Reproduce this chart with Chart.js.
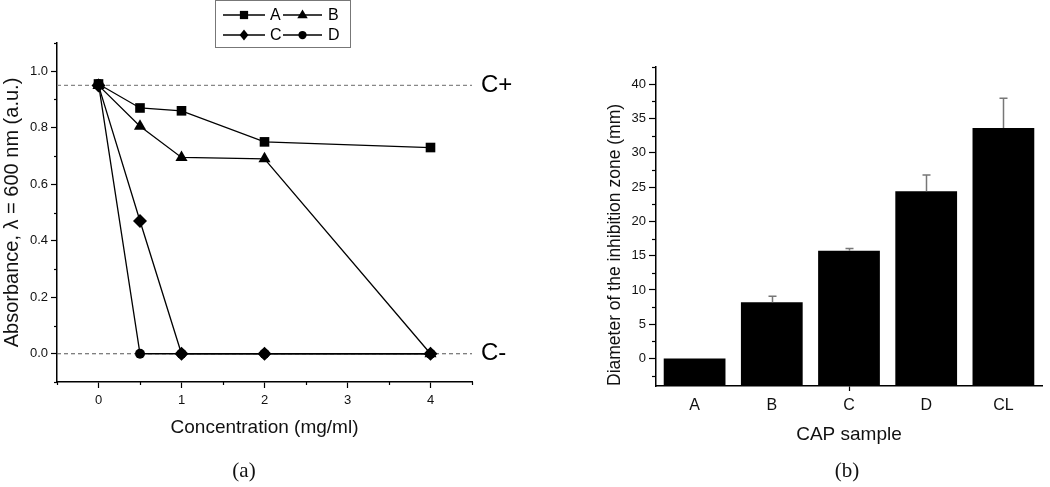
<!DOCTYPE html>
<html>
<head>
<meta charset="utf-8">
<script src="https://cdn.jsdelivr.net/npm/chart.js"></script>
<style>
  body { margin: 0; background: #fff; }
  #wrap { position: relative; width: 1050px; height: 487px; overflow: hidden; }
  canvas { position: absolute; top: 0; }
  .panel { position: absolute; top: 457px; width: 80px; text-align: center;
           font: 21px/26px "Liberation Serif", serif; color: #111; }
</style>
</head>
<body>
<div id="wrap">
  <canvas id="chartA" width="520" height="487" style="left:0"></canvas>
  <canvas id="chartB" width="530" height="487" style="left:520px"></canvas>
  <div class="panel" style="left:204px">(a)</div>
  <div class="panel" style="left:807px">(b)</div>
</div>
<script>
// panel (a): absorbance vs concentration
const concentration = [0, 0.5, 1, 2, 4];
const absA = [0.955, 0.87, 0.86, 0.75, 0.73];
const absB = [0.95, 0.805, 0.695, 0.69, 0.0];
const absC = [0.95, 0.47, 0.0, 0.0, 0.0];
const absD = [0.955, 0.0, 0.0, 0.0, 0.0];
const controlPos = 0.95;
const controlNeg = 0.0;

// panel (b): inhibition zone
const samples = ['A', 'B', 'C', 'D', 'CL'];
const zoneDiameter = [0, 8.2, 15.7, 24.4, 33.6];
const zoneError = [0, 0.9, 0.35, 2.35, 4.35];

const SANS = '"Liberation Sans", Arial, sans-serif';
const CLEAR = 'rgba(0,0,0,0)';

function pts(ys) { return concentration.map((x, i) => ({x: x, y: ys[i]})); }

function marker(ctx, style, x, y, r) {
  ctx.beginPath();
  if (style === 'rect') {
    const s = r * 0.75;
    ctx.rect(x - s, y - s, 2 * s, 2 * s);
  } else if (style === 'triangle') {
    ctx.moveTo(x, y - r);
    ctx.lineTo(x + r * 0.95, y + r * 0.6);
    ctx.lineTo(x - r * 0.95, y + r * 0.6);
    ctx.closePath();
  } else if (style === 'rectRot') {
    ctx.moveTo(x, y - r);
    ctx.lineTo(x + r * 0.8, y);
    ctx.lineTo(x, y + r);
    ctx.lineTo(x - r * 0.8, y);
    ctx.closePath();
  } else {
    ctx.arc(x, y, r * 0.75, 0, Math.PI * 2);
  }
  ctx.fill();
}

// short minor ticks, drawn next to the axis line
function minorTicks(scaleId, isMinor, len) {
  return {
    id: 'minor_' + scaleId,
    afterDraw(chart) {
      const s = chart.scales[scaleId], ctx = chart.ctx;
      ctx.save();
      ctx.strokeStyle = '#000';
      ctx.lineWidth = 1.2;
      s.ticks.forEach(t => {
        if (!isMinor(t.value)) return;
        const p = Math.round(s.getPixelForValue(t.value)) + 0.5;
        ctx.beginPath();
        if (s.isHorizontal()) { ctx.moveTo(p, s.top); ctx.lineTo(p, s.top + len); }
        else { ctx.moveTo(s.right - len, p); ctx.lineTo(s.right, p); }
        ctx.stroke();
      });
      ctx.restore();
    }
  };
}

const yMinorA = v => Math.round(v * 10) % 2 !== 0;
const xMinorA = v => Math.round(v * 2) % 2 !== 0;
const yMinorB = v => Math.round(v / 2.5) % 2 !== 0;

const legendBox = {
  id: 'legendBox',
  afterDraw(chart) {
    const ctx = chart.ctx;
    const ds = chart.data.datasets.filter(d => d.label);
    ctx.save();
    ctx.strokeStyle = '#777';
    ctx.lineWidth = 1;
    ctx.strokeRect(215.5, 0.5, 135, 47);
    ctx.font = '16px ' + SANS;
    ctx.textBaseline = 'middle';
    ctx.fillStyle = '#000';
    ctx.strokeStyle = '#000';
    ds.forEach((d, i) => {
      const col = i % 2, row = Math.floor(i / 2);
      const y = 15 + row * 20;
      const x0 = col ? 283 : 223, x1 = col ? 322 : 265;
      ctx.lineWidth = 1.3;
      ctx.beginPath(); ctx.moveTo(x0, y); ctx.lineTo(x1, y); ctx.stroke();
      marker(ctx, d.pointStyle, (x0 + x1) / 2, y, 5.5);
      ctx.fillText(d.label, col ? 328 : 270, y + 1);
    });
    ctx.restore();
  }
};

const controlLabels = {
  id: 'controlLabels',
  afterDraw(chart) {
    const ctx = chart.ctx, y = chart.scales.y, x = chart.chartArea.right + 9;
    ctx.save();
    ctx.font = '24px ' + SANS;
    ctx.fillStyle = '#000';
    ctx.textBaseline = 'middle';
    ctx.fillText('C+', x, y.getPixelForValue(controlPos));
    ctx.fillText('C-', x, y.getPixelForValue(controlNeg));
    ctx.restore();
  }
};

const errorBars = {
  id: 'errorBars',
  afterDatasetsDraw(chart) {
    const ctx = chart.ctx, y = chart.scales.y;
    const meta = chart.getDatasetMeta(0);
    ctx.save();
    ctx.strokeStyle = '#777';
    ctx.lineWidth = 1.5;
    meta.data.forEach((bar, i) => {
      if (!zoneError[i]) return;
      const x = Math.round(bar.x) + 0.5;
      const top = y.getPixelForValue(zoneDiameter[i] + zoneError[i]);
      const base = y.getPixelForValue(zoneDiameter[i]);
      ctx.beginPath();
      ctx.moveTo(x, base); ctx.lineTo(x, top);
      ctx.moveTo(x - 4, top); ctx.lineTo(x + 4, top);
      ctx.stroke();
    });
    ctx.restore();
  }
};

function series(label, ys, style, radius, order) {
  return {
    label: label, data: pts(ys), order: order,
    borderColor: '#000', backgroundColor: '#000', borderWidth: 1.3,
    pointStyle: style, pointRadius: radius, pointBorderWidth: 0,
    pointBackgroundColor: '#000', showLine: true, tension: 0
  };
}

function refLine(value, color) {
  return {
    data: [{x: -0.5, y: value}, {x: 4.5, y: value}], order: 10,
    borderColor: color, borderWidth: 1.2, borderDash: [4, 3],
    pointRadius: 0, showLine: true
  };
}

new Chart(document.getElementById('chartA'), {
  type: 'scatter',
  data: {
    datasets: [
      series('A', absA, 'rect', 6.8, 1),
      series('B', absB, 'triangle', 7, 2),
      series('C', absC, 'rectRot', 7, 0),
      series('D', absD, 'circle', 5, 3),
      refLine(controlPos, '#888'),
      refLine(controlNeg, '#555')
    ]
  },
  options: {
    responsive: false, animation: false, devicePixelRatio: 1, events: [],
    layout: { padding: { left: 0, right: 48, top: 43, bottom: 40 } },
    plugins: { legend: { display: false }, tooltip: { enabled: false } },
    scales: {
      x: {
        type: 'linear', min: -0.5, max: 4.5,
        afterFit: s => { s.height = 65; },
        border: { color: '#000', width: 1.5 },
        grid: { drawOnChartArea: false, tickLength: 6, tickWidth: 1.2,
                tickColor: c => xMinorA(c.tick.value) ? CLEAR : '#000' },
        ticks: { stepSize: 0.5, autoSkip: false, padding: 5, color: '#111',
                 font: { family: SANS, size: 13 },
                 callback: v => xMinorA(v) ? '' : String(Math.round(v)) },
        title: { display: true, text: 'Concentration (mg/ml)', color: '#111',
                 font: { family: SANS, size: 19 }, padding: { top: 0, bottom: 8 } }
      },
      y: {
        min: -0.1, max: 1.1,
        afterFit: s => { s.width = 57; },
        border: { color: '#000', width: 1.5 },
        grid: { drawOnChartArea: false, tickLength: 6, tickWidth: 1.2,
                tickColor: c => yMinorA(c.tick.value) ? CLEAR : '#000' },
        ticks: { stepSize: 0.1, autoSkip: false, padding: 3, color: '#111',
                 font: { family: SANS, size: 13 },
                 callback: v => yMinorA(v) ? '' : (Math.round(v * 10) / 10).toFixed(1) },
        title: { display: true, text: 'Absorbance, λ = 600 nm (a.u.)', color: '#111',
                 font: { family: SANS, size: 20 }, padding: { top: 0, bottom: 0 } }
      }
    }
  },
  plugins: [legendBox, controlLabels, minorTicks('x', xMinorA, 3), minorTicks('y', yMinorA, 3)]
});

new Chart(document.getElementById('chartB'), {
  type: 'bar',
  data: {
    labels: samples,
    datasets: [{
      data: zoneDiameter, base: -4,
      backgroundColor: '#000', borderWidth: 0,
      barPercentage: 0.8, categoryPercentage: 1.0
    }]
  },
  options: {
    responsive: false, animation: false, devicePixelRatio: 1, events: [],
    layout: { padding: { left: 84, right: 8, top: 67, bottom: 40 } },
    plugins: { legend: { display: false }, tooltip: { enabled: false } },
    scales: {
      x: {
        afterFit: s => { s.height = 61; },
        border: { color: '#000', width: 1.5 },
        grid: { offset: false, drawOnChartArea: false, tickLength: 5, tickWidth: 1.2,
                tickColor: c => c.index === 2 ? '#000' : CLEAR },
        ticks: { padding: 5, color: '#111', font: { family: SANS, size: 16 } },
        title: { display: true, text: 'CAP sample', color: '#111',
                 font: { family: SANS, size: 19 }, padding: { top: 0, bottom: 1 } }
      },
      y: {
        min: -4, max: 42.5,
        afterFit: s => { s.width = 52; },
        border: { color: '#000', width: 1.5 },
        grid: { drawOnChartArea: false, tickLength: 7, tickWidth: 1.2,
                tickColor: c => yMinorB(c.tick.value) ? CLEAR : '#000' },
        ticks: { stepSize: 2.5, includeBounds: false, autoSkip: false, padding: 3, color: '#111',
                 font: { family: SANS, size: 13 },
                 callback: v => yMinorB(v) ? '' : String(v) },
        title: { display: true, text: 'Diameter of the inhibition zone (mm)', color: '#111',
                 align: 'start',
                 font: { family: SANS, size: 17.5 }, padding: { top: 1, bottom: 0 } }
      }
    }
  },
  plugins: [errorBars, minorTicks('y', yMinorB, 4)]
});
</script>
</body>
</html>
